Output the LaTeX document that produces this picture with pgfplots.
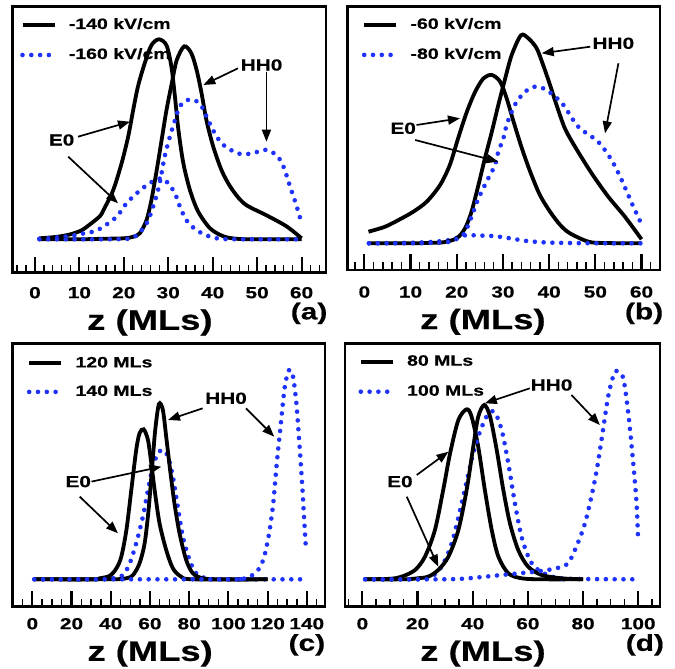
\documentclass[border=0pt]{standalone}
\usepackage{fontspec}
\setmainfont{Liberation Sans}[FakeStretch=1.3, BoldFeatures={FakeBold=0.5}]
\usepackage{pgfplots}
\pgfplotsset{compat=1.18}
\usetikzlibrary{arrows.meta}
\definecolor{dotblue}{RGB}{30,50,250}
\pgfplotsset{
 panel/.style={
   scale only axis, clip=false, anchor=south west,
   axis line style={line width=2.6pt},
   ytick=\empty,
   xtick pos=lower, tick align=inside,
   major tick length=16pt, minor tick length=8pt,
   major tick style={line width=2.1pt, black},
   minor tick style={line width=1.4pt, black},
   xticklabel style={font=\bfseries\fontsize{16}{16}\selectfont, anchor=center, yshift=-20pt},
   /pgf/number format/assume math mode=true,
   xlabel style={font=\bfseries\fontsize{28}{28}\selectfont, anchor=center},
   legend style={draw=none, fill=none, at={(axis description cs:0,1)}, anchor=north west,
     inner sep=0pt, column sep=12pt, row sep=16pt, font=\bfseries\fontsize{15}{15}\selectfont,
     nodes={inner sep=0pt, text height=11pt, text depth=3pt}},
   legend cell align=left,
   legend image code/.code={\draw[##1] (0pt,0pt) -- (32pt,0pt);},
 },
 blk/.style={black, line width=3.8pt, smooth},
 blu/.style={dotblue, line width=4.6pt, line cap=round, dash pattern=on 0pt off 8.8pt, smooth},
}
\tikzset{
 arr/.style={line width=1.7pt, -{Triangle[length=12pt,width=9pt]}},
 lbl/.style={font=\bfseries\fontsize{16}{16}\selectfont},
 plbl/.style={font=\bfseries\fontsize{23}{23}\selectfont},
}
\begin{document}
\begin{tikzpicture}
\useasboundingbox (0,0) rectangle (675pt,669pt);
% ---------------- (a)
\begin{axis}[panel, at={(12.7pt,396.3pt)}, width=313.3pt, height=266.4pt,
  xmin=-5, xmax=65.5, ymin=-33.4, ymax=233,
  xtick={0,10,...,60}, minor xtick={-4,-2,...,64},
  xlabel={z (MLs)}, xlabel style={at={(axis description cs:0.438,-0.187)}},
  legend style={xshift=7.3pt, yshift=-11.5pt}]
\addplot[blk] coordinates {(1,1) (5,2.5) (8,5) (10.5,9) (12.4,15) (14.6,23) (15.4,29) (17.6,49) (19.5,76) (21,103) (22.1,129) (23.2,153) (24.7,176) (26.2,194) (27.9,200) (29.6,194) (30.7,173) (31.5,143) (32.3,109) (33.4,76) (34.9,49) (36.7,28) (39.4,11) (42.4,3) (45.4,0.5) (50,0) (60,0)};
\addlegendentry{-140 kV/cm}
\addplot[blu] coordinates {(1,0.5) (4,1.5) (7.5,3) (10,5) (11.6,6.5) (13.5,8) (15.4,12.6) (18.4,22.6) (20.6,36) (22.9,46) (25.1,54) (27,59) (28.5,61) (30,56) (31.5,46) (32.6,33) (34.1,19) (36.4,9) (39.4,2.6) (42.4,0.3) (50,0) (60,0)};
\addlegendentry{-160 kV/cm}
\addplot[blk] coordinates {(1,0) (10,0) (15,0.5) (20,1) (22.1,2.5) (23.6,6) (25.1,19) (26.2,39) (27.4,69) (28.5,99) (29.6,129) (30.8,156) (31.9,179) (33.6,193) (35.2,186) (36.4,169) (37.5,146) (38.6,119) (40.1,93) (42,69) (43.9,53) (46.1,40) (48,33) (52.1,24) (56.6,13) (60,1)};
\addplot[blu] coordinates {(1,0) (15,0) (19.9,0.3) (22.1,1.5) (24,9) (25.5,19) (26.6,33) (27.7,49) (28.5,66) (29.2,83) (30.4,103) (31.5,119) (32.6,133) (34.1,139) (36,139) (37.5,133) (38.6,123) (40.1,109) (42,96) (44.6,88) (46.1,85.5) (48.4,85.5) (50.5,88) (52.1,89.5) (54.4,84) (55.9,73) (57.4,53) (58.9,33) (60,16)};
\node[lbl] at (axis cs:51,174.3) {HH0};
\draw[arr] (axis cs:45.7,171) -- (axis cs:37.9,154.3);
\draw[arr] (axis cs:52.1,167.6) -- (axis cs:52.1,97.6);
\node[lbl] at (axis cs:6,99.3) {E0};
\draw[arr] (axis cs:9.7,102.6) -- (axis cs:21.4,117.6);
\draw[arr] (axis cs:7.5,82.6) -- (axis cs:18.7,36);
\node[plbl] at (axis description cs:0.946,-0.153) {(a)};
\end{axis}
% ---------------- (b)
\begin{axis}[panel, at={(347.7pt,399pt)}, width=312.3pt, height=263.3pt,
  xmin=-3.6, xmax=64, ymin=-26.7, ymax=236.6,
  xtick={0,10,...,60}, minor xtick={-2,0,...,64},
  xticklabel style={yshift=-2pt},
  xlabel={z (MLs)}, xlabel style={at={(axis description cs:0.433,-0.197)}},
  legend style={xshift=14pt, yshift=-11pt}]
\addplot[blk] coordinates {(0.9,11.6) (4.5,16.6) (7.7,24) (10.6,31.6) (13.5,41.6) (16.4,58.3) (18.5,78.3) (20.3,105) (22.2,131.6) (24,151.6) (25.8,165) (27.6,168.3) (29.4,161.6) (30.8,145) (32.3,121.6) (34.1,95) (35.9,71.6) (38,48.3) (40.2,31.6) (42.4,18.3) (44.5,10) (48.5,1.6) (52,0.3) (60,0)};
\addlegendentry{-60 kV/cm}
\addplot[blu] coordinates {(1,0) (10,0.5) (15,1.5) (18.5,3.3) (20.7,6.6) (22.2,8.3) (24.3,7.8) (27.9,7.3) (31.5,5) (35.1,2.3) (39.5,0.8) (44.2,0.3) (50,0) (60,0)};
\addlegendentry{-80 kV/cm}
\addplot[blk] coordinates {(1,0) (10,0) (15,0.5) (17.1,1) (20,5) (21.8,15) (23.2,31.6) (24.7,58.3) (26.1,85) (27.6,111.6) (29,138.3) (30.5,165) (31.9,188.3) (33.9,208) (35.5,205) (37.3,195) (38.7,178.3) (40.2,158.3) (41.6,138.3) (43.4,115) (45.6,96.6) (49.2,70) (52.8,46.6) (56.4,26.6) (60,4)};
\addplot[blu] coordinates {(1,0) (10,0) (15,0.5) (18.5,1.6) (21.4,8.3) (22.5,18.3) (23.6,31.6) (24.7,45) (26.1,58.3) (27.2,68.3) (28.3,78.3) (29,91.6) (30.1,105) (30.8,118.3) (31.9,131.6) (33,141.6) (34.8,151.6) (36.9,156.6) (38.7,155) (40.9,148.3) (43.1,138.3) (46.3,116.6) (50.6,101.6) (53.5,83.3) (55.7,63.3) (57.9,40) (59.9,20)};
\node[lbl] at (axis cs:53.9,200) {HH0};
\draw[arr] (axis cs:48.9,196.6) -- (axis cs:38.4,190);
\draw[arr] (axis cs:55,180) -- (axis cs:52.1,110);
\node[lbl] at (axis cs:8.4,115) {E0};
\draw[arr] (axis cs:11.3,118.3) -- (axis cs:20.7,125);
\draw[arr] (axis cs:11,103.3) -- (axis cs:29,81.6);
\node[plbl] at (axis description cs:0.949,-0.165) {(b)};
\end{axis}
% ---------------- (c)
\begin{axis}[panel, at={(12.7pt,62.3pt)}, width=312.3pt, height=263.4pt,
  xmin=-10, xmax=149.3, ymin=-27.4, ymax=236,
  xtick={0,20,...,140}, minor xtick={-5,0,...,145},
  xticklabel style={yshift=3pt},
  xlabel={z (MLs)}, xlabel style={at={(axis description cs:0.44,-0.178)}},
  legend style={xshift=14pt, yshift=-12.9pt, row sep=14.5pt}]
\addplot[blk] coordinates {(1,0) (30,0) (34.4,1) (39.5,3.5) (42.9,11) (45.4,22.7) (48,49.3) (50.5,89.3) (53,129.3) (54.7,146) (56.8,150) (59,139.3) (60.7,116) (62.4,89.3) (64.9,56) (68.3,29.3) (71.7,11) (75.9,2.7) (81.9,0) (120,0)};
\addlegendentry{120 MLs}
\addplot[blu] coordinates {(1,0) (35,0) (41.2,1) (46.3,4.3) (49.7,16) (53,36) (56.4,62.6) (59,89.3) (61.5,112.6) (64.1,126) (66.6,129.3) (69.2,122.6) (71.7,102.6) (74.2,72.6) (76.8,42.6) (80.2,19.3) (83.6,6) (88.6,1) (95,0) (138,0)};
\addlegendentry{140 MLs}
\addplot[blk] coordinates {(1,0) (40,0) (48,1) (51.4,4.3) (54.7,16) (57.3,36) (59.3,69.3) (61,109.3) (62.7,149.3) (64.6,175.3) (66.6,169.3) (68.3,142.6) (70.3,109.3) (72.5,76) (75.1,46) (78.5,19.3) (81.9,6) (86.9,1) (95,0) (120,0)};
\addplot[blu] coordinates {(1,0) (100,0) (105,0.3) (109,1) (112.4,4.3) (115.8,11) (118.3,22.7) (120.8,46) (122.9,76) (124.7,116) (126.8,156) (128.8,192.6) (131,209.3) (133,202.6) (134.7,176) (136.1,139.3) (137.5,99.3) (138.6,62.6) (139.5,32.6)};
\node[lbl] at (axis cs:98.8,181) {HH0};
\draw[arr] (axis cs:86.9,171) -- (axis cs:69.2,159.3);
\draw[arr] (axis cs:109,171) -- (axis cs:123.4,142.6);
\node[lbl] at (axis cs:23.4,97.7) {E0};
\draw[arr] (axis cs:30.2,97.7) -- (axis cs:65.8,112.6);
\draw[arr] (axis cs:24.2,82.6) -- (axis cs:43.7,46);
\node[plbl] at (axis description cs:0.942,-0.145) {(c)};
\end{axis}
% ---------------- (d)
\begin{axis}[panel, at={(345pt,62.3pt)}, width=315pt, height=263.4pt,
  xmin=-6.3, xmax=107.9, ymin=-27.4, ymax=236,
  xtick={0,20,...,100}, minor xtick={-5,0,...,105},
  xticklabel style={yshift=3pt},
  xlabel={z (MLs)}, xlabel style={at={(axis description cs:0.438,-0.178)}},
  legend style={xshift=13.3pt, yshift=-11.2pt, row sep=16pt}]
\addplot[blk] coordinates {(1,0) (10,0.5) (14.3,2.7) (19.1,9.3) (22.7,22.7) (26.3,49.3) (29.3,89.3) (31.8,126) (34.8,159.3) (37.8,170) (39.6,162.6) (42,132.6) (44.4,89.3) (46.9,49.3) (49.3,22.7) (52.9,6) (57.7,1) (65,0) (80,0)};
\addlegendentry{80 MLs}
\addplot[blu] coordinates {(1,0) (20,0) (25.1,2.7) (28.7,12.6) (32.4,36) (36,76) (39.6,119.3) (42,142.6) (45,162.6) (47.8,167.6) (50.5,149.3) (52.9,116) (55.3,76) (57.7,42.6) (60.7,19.3) (63.8,9.3) (68.6,2.7) (75,0.5) (99,0)};
\addlegendentry{100 MLs}
\addplot[blk] coordinates {(1,0) (15,0) (20,1) (23.9,2.7) (27.5,9.3) (31.2,22.7) (34.8,49.3) (37.8,89.3) (40.2,132.6) (42,162.6) (44.2,174.3) (46.3,162.6) (48.7,129.3) (51.1,89.3) (53.5,56) (56.5,29.3) (60.1,12.6) (65,4.3) (72.2,1) (80,0)};
\addplot[blu] coordinates {(1,0) (30,0) (38.4,1) (50.5,4.3) (62.6,7.6) (68.6,10) (72.2,12.5) (74.6,16) (77,29) (80.7,56) (84.3,99.3) (86.7,139.3) (89.1,182.6) (91.3,206) (92.8,207.6) (94.6,201) (96.4,166) (98.2,116) (99.4,76) (100,37.6)};
\node[lbl] at (axis cs:68.6,194.3) {HH0};
\draw[arr] (axis cs:60.7,191) -- (axis cs:44.4,176);
\draw[arr] (axis cs:75.8,184.3) -- (axis cs:86.1,154.3);
\node[lbl] at (axis cs:13.6,97.7) {E0};
\draw[arr] (axis cs:19.7,104.3) -- (axis cs:31.2,127.6);
\draw[arr] (axis cs:16.1,82.6) -- (axis cs:27.5,12.6);
\node[plbl] at (axis description cs:0.952,-0.145) {(d)};
\end{axis}
\end{tikzpicture}
\end{document}
